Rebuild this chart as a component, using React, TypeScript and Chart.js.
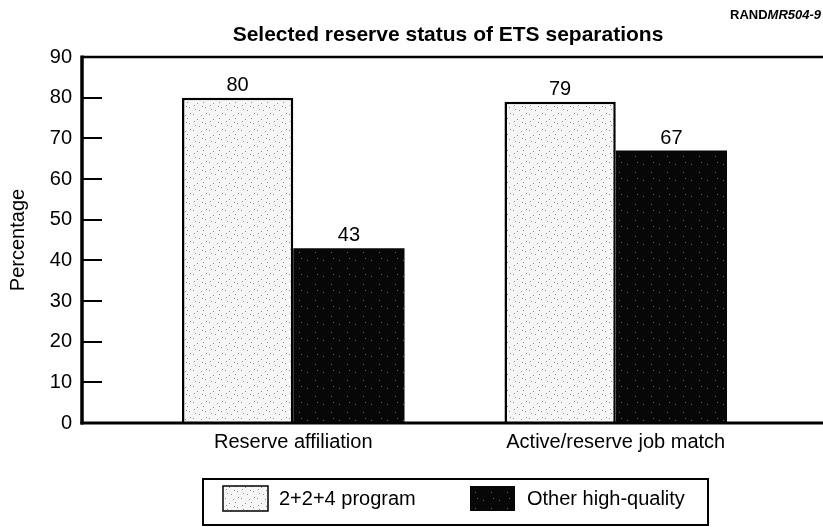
import React, { useEffect, useRef } from 'react';
import { Chart, registerables } from 'chart.js';

Chart.register(...registerables);

const TITLE = 'Selected reserve status of ETS separations';
const SOURCE_BOLD = 'RAND';
const SOURCE_ITALIC = 'MR504-9';
const Y_TITLE = 'Percentage';
const categories = ['Reserve affiliation', 'Active/reserve job match'];
const seriesNames = ['2+2+4 program', 'Other high-quality'];
const program224 = [80, 79];
const otherHighQuality = [43, 67];
const yMin = 0;
const yMax = 90;
const yStep = 10;

const FONT = "'Liberation Sans', Arial, Helvetica, sans-serif";
const W = 830;
const H = 527;
const AXIS_X = 82; // pixel x of the drawn left axis line
const PLOT_LEFT = 132; // where the category band starts
const PLOT_RIGHT = 777;

function makePattern(bg: string, dot: string, pts: number[][]) {
  const c = document.createElement('canvas');
  c.width = 16;
  c.height = 16;
  const g = c.getContext('2d')!;
  g.fillStyle = bg;
  g.fillRect(0, 0, 16, 16);
  g.fillStyle = dot;
  pts.forEach(([x, y]) => g.fillRect(x, y, 1, 1));
  return g.createPattern(c, 'repeat');
}

const decor = {
  id: 'decor',
  afterDatasetsDraw(chart: any) {
    const { ctx, chartArea: a, scales } = chart;
    const y = scales.y;
    ctx.save();
    // value labels
    ctx.font = `20px ${FONT}`;
    ctx.fillStyle = '#000';
    ctx.textAlign = 'center';
    ctx.textBaseline = 'alphabetic';
    chart.data.datasets.forEach((ds: any, di: number) => {
      const meta = chart.getDatasetMeta(di);
      meta.data.forEach((el: any, i: number) => {
        ctx.fillText(String(ds.data[i]), el.x, el.y - 7);
      });
    });
    // frame
    ctx.strokeStyle = '#000';
    ctx.lineCap = 'butt';
    ctx.lineWidth = 2.5;
    ctx.beginPath();
    ctx.moveTo(AXIS_X, a.top);
    ctx.lineTo(W, a.top);
    ctx.stroke();
    ctx.lineWidth = 3;
    ctx.beginPath();
    ctx.moveTo(AXIS_X - 1.5, a.bottom);
    ctx.lineTo(W, a.bottom);
    ctx.stroke();
    ctx.lineWidth = 3.5;
    ctx.beginPath();
    ctx.moveTo(AXIS_X, a.top - 1.5);
    ctx.lineTo(AXIS_X, a.bottom + 1.5);
    ctx.stroke();
    // inward tick marks
    ctx.lineWidth = 2;
    for (let v = yMin + yStep; v < yMax; v += yStep) {
      const py = Math.round(y.getPixelForValue(v));
      ctx.beginPath();
      ctx.moveTo(AXIS_X, py);
      ctx.lineTo(AXIS_X + 20, py);
      ctx.stroke();
    }
    ctx.restore();
  },
  afterDraw(chart: any) {
    const { ctx } = chart;
    ctx.save();
    ctx.fillStyle = '#000';
    // title
    ctx.font = `bold 21px ${FONT}`;
    ctx.textAlign = 'center';
    ctx.textBaseline = 'middle';
    ctx.fillText(TITLE, 448, 35);
    // source tag
    ctx.textAlign = 'left';
    ctx.font = `bold 13px ${FONT}`;
    ctx.fillText(SOURCE_BOLD, 730, 15);
    const w = ctx.measureText(SOURCE_BOLD).width;
    ctx.font = `italic bold 13px ${FONT}`;
    ctx.fillText(SOURCE_ITALIC, 730 + w, 15);
    // legend
    ctx.strokeStyle = '#000';
    ctx.lineWidth = 2;
    ctx.strokeRect(203, 479, 505, 46);
    const items = [
      { x: 223, tx: 279 },
      { x: 470, tx: 527 },
    ];
    ctx.font = `20px ${FONT}`;
    ctx.textBaseline = 'middle';
    chart.data.datasets.forEach((ds: any, i: number) => {
      const it = items[i];
      ctx.fillStyle = ds.backgroundColor;
      ctx.fillRect(it.x, 486, 45, 25);
      if (ds.borderWidth) {
        ctx.lineWidth = 1.5;
        ctx.strokeRect(it.x, 486, 45, 25);
      }
      ctx.fillStyle = '#000';
      ctx.fillText(ds.label, it.tx, 499);
    });
    ctx.restore();
  },
};

export default function App() {
  const ref = useRef<HTMLCanvasElement>(null);
  useEffect(() => {
    const lightPat = makePattern('#f6f6f6', '#8c8c8c', [
      [1, 2], [5, 7], [9, 3], [13, 11], [3, 13], [11, 6], [7, 14], [14, 1], [2, 9], [10, 10],
    ]);
    const darkPat = makePattern('#070707', '#6a6a6a', [[3, 4], [11, 12], [13, 2]]);
    const chart = new Chart(ref.current!, {
      type: 'bar',
      data: {
        labels: categories,
        datasets: [
          {
            label: seriesNames[0],
            data: program224,
            backgroundColor: lightPat as any,
            borderColor: '#000',
            borderWidth: 2.5,
            borderSkipped: 'bottom',
          },
          {
            label: seriesNames[1],
            data: otherHighQuality,
            backgroundColor: darkPat as any,
            borderWidth: 0,
          },
        ],
      },
      options: {
        responsive: false,
        animation: false,
        events: [],
        layout: { padding: { top: 57, right: W - PLOT_RIGHT, left: 0, bottom: 0 } },
        datasets: { bar: { categoryPercentage: 0.69, barPercentage: 1 } },
        plugins: { legend: { display: false }, title: { display: false }, tooltip: { enabled: false } },
        scales: {
          x: {
            grid: { display: false, drawTicks: false },
            border: { display: false },
            ticks: {
              autoSkip: false,
              maxRotation: 0,
              padding: 7,
              color: '#000',
              font: { size: 20, family: FONT },
            },
            afterFit: (s: any) => {
              s.height = 104;
            },
          },
          y: {
            min: yMin,
            max: yMax,
            grid: { display: false, drawTicks: false },
            border: { display: false },
            ticks: {
              stepSize: yStep,
              padding: 10 + (PLOT_LEFT - AXIS_X),
              color: '#000',
              font: { size: 20, family: FONT },
            },
            title: {
              display: true,
              text: Y_TITLE,
              color: '#000',
              font: { size: 20, family: FONT },
              padding: { top: 6, bottom: 0 },
            },
            afterFit: (s: any) => {
              s.width = PLOT_LEFT;
              s.paddingTop = 12;
              s.paddingBottom = 12;
            },
          },
        },
      },
      plugins: [decor],
    } as any);
    return () => chart.destroy();
  }, []);
  return (
    <div style={{ position: 'fixed', left: 0, top: 0, width: 823, height: 527, overflow: 'hidden', background: '#fff' }}>
      <canvas ref={ref} width={W} height={H} style={{ width: W, height: H, display: 'block' }} />
    </div>
  );
}
